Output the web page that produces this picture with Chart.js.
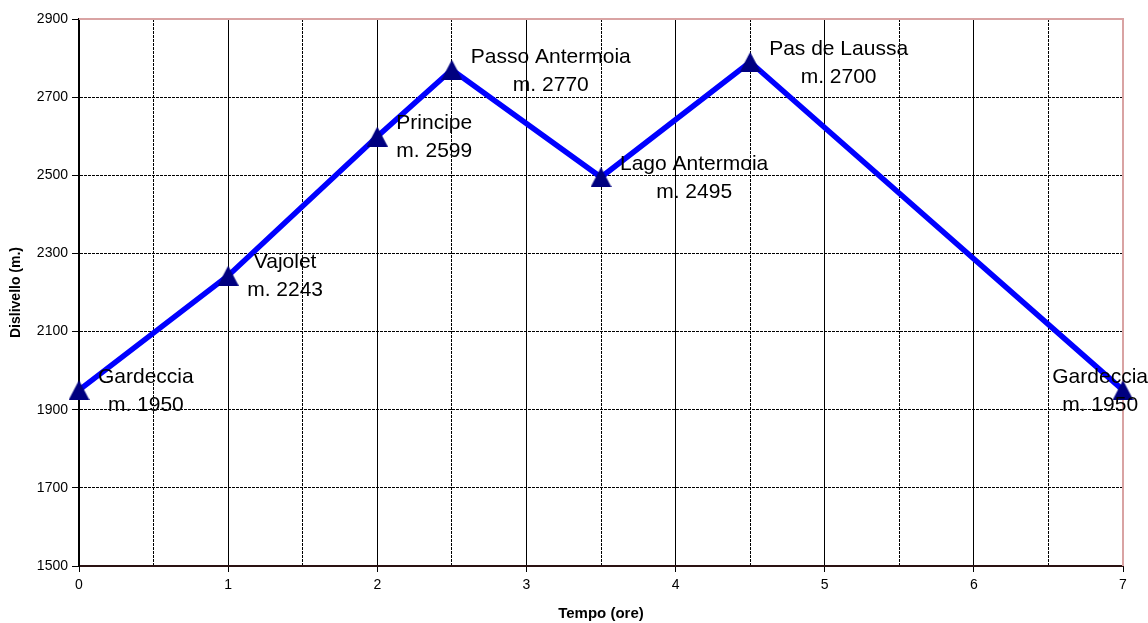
<!DOCTYPE html>
<html>
<head>
<meta charset="utf-8">
<script src="https://cdn.jsdelivr.net/npm/chart.js@4/dist/chart.umd.min.js"></script>
<style>
  html, body { margin: 0; padding: 0; background: #fff; }
  #wrap { position: relative; width: 1148px; height: 623px; }
</style>
</head>
<body>
<div id="wrap"><canvas id="c" width="1148" height="623"></canvas></div>
<script>
// ---- data ----
const hours = [0, 1, 2, 2.5, 3.5, 4.5, 7];
const altitudes = [1950, 2243, 2599, 2770, 2495, 2790, 1950];
const placeNames = ['Gardeccia', 'Vajolet', 'Principe', 'Passo Antermoia', 'Lago Antermoia', 'Pas de Laussa', 'Gardeccia'];
const placeHeights = ['m. 1950', 'm. 2243', 'm. 2599', 'm. 2770', 'm. 2495', 'm. 2700', 'm. 1950'];
const xTickLabels = ['0', '1', '2', '3', '4', '5', '6', '7'];
const yTickLabels = ['1500', '1700', '1900', '2100', '2300', '2500', '2700', '2900'];

const FONT = '"Liberation Sans", Arial, sans-serif';

// triangle marker (bbox-centred)
function makeTriangle() {
  const w = 21, h = 20;
  const c = document.createElement('canvas');
  c.width = w; c.height = h;
  const g = c.getContext('2d');
  g.fillStyle = '#000080';
  g.beginPath();
  g.moveTo(w / 2, 0);
  g.lineTo(w, h);
  g.lineTo(0, h);
  g.closePath();
  g.fill();
  return c;
}
const tri = makeTriangle();

const frame = {
  id: 'frame',
  beforeDatasetsDraw(chart) {
    const { ctx, chartArea: a } = chart;
    ctx.save();
    ctx.strokeStyle = '#d9a3a3';
    ctx.lineWidth = 2;
    ctx.beginPath();
    ctx.moveTo(a.left, a.top);
    ctx.lineTo(a.right, a.top);
    ctx.lineTo(a.right, a.bottom);
    ctx.stroke();
    ctx.restore();
  }
};

const labelsPlugin = {
  id: 'pointLabels',
  afterDatasetsDraw(chart) {
    const { ctx } = chart;
    const meta = chart.getDatasetMeta(0);
    ctx.save();
    ctx.font = '21px ' + FONT;
    ctx.fillStyle = '#000';
    ctx.textBaseline = 'middle';
    ctx.textAlign = 'center';
    meta.data.forEach((pt, i) => {
      const l1 = placeNames[i], l2 = placeHeights[i];
      const bw = Math.max(ctx.measureText(l1).width, ctx.measureText(l2).width);
      let left = pt.x + 19;
      if (left + bw > chart.width) left = chart.width - bw;
      const cx = left + bw / 2;
      const cy = pt.y + 1;
      ctx.fillText(l1, cx, cy - 14);
      ctx.fillText(l2, cx, cy + 14);
    });
    ctx.restore();
  }
};

new Chart(document.getElementById('c'), {
  type: 'line',
  data: {
    datasets: [{
      data: hours.map((h, i) => ({ x: h, y: altitudes[i] })),
      borderColor: '#0000ff',
      borderWidth: 5.5,
      pointStyle: tri,
      pointRadius: 10,
      pointHoverRadius: 10,
      tension: 0,
      clip: false
    }]
  },
  options: {
    responsive: false,
    animation: false,
    events: [],
    layout: { padding: { left: 0, right: 25, top: 19, bottom: 0 } },
    plugins: { legend: { display: false }, tooltip: { enabled: false } },
    scales: {
      x: {
        type: 'linear', position: 'bottom', min: 0, max: 7,
        afterFit: s => { s.height = 57; },
        ticks: {
          stepSize: 1, padding: 5, color: '#000',
          font: { family: FONT, size: 14 },
          callback: (v) => xTickLabels[v] !== undefined ? xTickLabels[v] : ''
        },
        grid: {
          color: c => (c.tick && c.tick.value === 7) ? 'rgba(0,0,0,0)' : '#000',
          tickColor: '#000', tickLength: 6, lineWidth: 1
        },
        border: { display: true, color: '#2a1212', width: 2 },
        title: { display: true, text: 'Tempo (ore)', color: '#000', font: { family: FONT, size: 15, weight: 'bold' }, padding: { top: 0, bottom: 0 } }
      },
      x2: {
        type: 'linear', position: 'top', min: 0, max: 7,
        afterFit: s => { s.height = 0; },
        ticks: { display: false, stepSize: 0.5 },
        grid: {
          drawTicks: false,
          color: c => (c.tick && c.tick.value % 1 !== 0) ? '#000' : 'rgba(0,0,0,0)',
          lineWidth: 1
        },
        border: { display: false, dash: [3, 1] }
      },
      y: {
        type: 'linear', min: 1500, max: 2900,
        afterFit: s => { s.width = 79; },
        ticks: {
          stepSize: 200, padding: 4, color: '#000',
          font: { family: FONT, size: 14 },
          callback: (v) => { const k = yTickLabels.indexOf(String(v)); return k >= 0 ? yTickLabels[k] : ''; }
        },
        grid: {
          color: c => (c.tick && c.tick.value === 2900) ? 'rgba(0,0,0,0)' : '#000',
          tickColor: '#000', tickLength: 7, lineWidth: 1
        },
        border: { display: true, color: '#000', width: 2, dash: [3, 1] },
        title: { display: true, text: 'Dislivello (m.)', color: '#000', font: { family: FONT, size: 14, weight: 'bold' }, padding: { top: 8, bottom: 0 } }
      }
    }
  },
  plugins: [frame, labelsPlugin]
});
</script>
</body>
</html>
